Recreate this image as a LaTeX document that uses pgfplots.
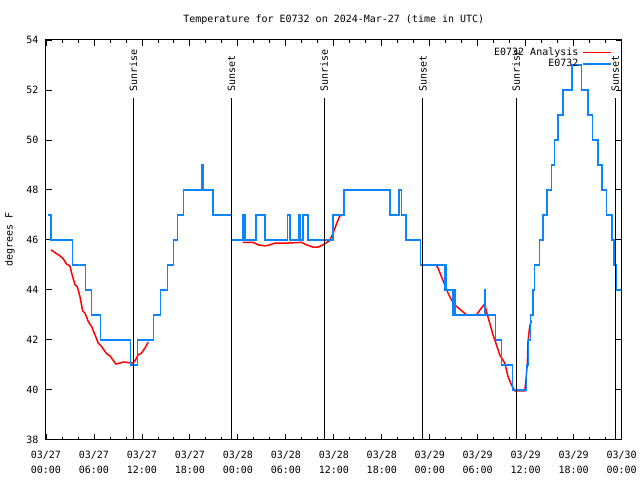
\documentclass[border=0pt]{standalone}
\usepackage{fontspec}
\setmainfont{DejaVu Sans Mono}
\usepackage{pgfplots}
\pgfplotsset{compat=1.18}
\definecolor{obsblue}{RGB}{10,132,255}
\newcommand{\gfont}{\fontsize{10bp}{12bp}\selectfont}
\begin{document}
\begin{tikzpicture}
\begin{axis}[
  scale only axis, width=576bp, height=400bp,
  xmin=0, xmax=72, ymin=38, ymax=54,
  xtick={0,6,...,72},
  xticklabels={{03/27\\00:00},{03/27\\06:00},{03/27\\12:00},{03/27\\18:00},{03/28\\00:00},{03/28\\06:00},{03/28\\12:00},{03/28\\18:00},{03/29\\00:00},{03/29\\06:00},{03/29\\12:00},{03/29\\18:00},{03/30\\00:00}},
  minor x tick num=2,
  ytick={38,40,...,54},
  tick align=inside,
  major tick length=6bp, minor tick length=3bp,
  tick style={black, line width=0.8bp},
  axis line style={line width=1bp},
  font=\gfont,
  xticklabel style={font=\fontsize{10bp}{15bp}\selectfont, align=center, yshift=-8bp},
  yticklabel style={xshift=-4bp},
  /pgf/number format/assume math mode=true,
  title={Temperature for E0732 on 2024-Mar-27 (time in UTC)},
  title style={at={(axis description cs:0.5,1.035)}, anchor=center, font=\gfont},
  ylabel={degrees F},
  ylabel style={at={(axis description cs:-0.0625,0.5)}, anchor=center, font=\gfont},
  legend style={draw=none, fill=none, at={(axis description cs:0.983,0.982)}, anchor=north east,
    font=\gfont, inner sep=0pt, outer sep=0pt, row sep=0pt, column sep=3bp,
    nodes={inner sep=1bp}},
  legend cell align=right,
  legend plot pos=right,
  legend image code/.code={\draw[#1, line width=1.5bp] (0bp,0bp) -- (28bp,0bp);},
]
% Analysis (red)
\addplot[red, line width=1.5bp] coordinates {
(0.63,45.6)(1.13,45.49)(1.75,45.36)(2.09,45.27)(2.59,45.03)(3.0,44.95)(3.21,44.67)(3.63,44.2)(3.91,44.13)(4.25,43.73)(4.59,43.16)(4.88,43.07)(5.29,42.73)(5.71,42.53)(6.13,42.2)(6.54,41.87)(6.96,41.73)(7.59,41.44)(8.0,41.36)(8.34,41.2)(8.75,41.03)(9.25,41.07)(9.66,41.11)(10.29,41.09)(10.84,41.07)(11.13,41.16)(11.54,41.4)(11.96,41.47)(12.38,41.67)(12.79,41.91)
};
\addlegendentry{E0732 Analysis}
\addplot[red, line width=1.5bp, forget plot] coordinates {
(24.59,45.9)(25.91,45.9)(26.54,45.8)(27.38,45.76)(28.0,45.8)(28.63,45.87)(30.09,45.87)(31.96,45.9)(32.59,45.8)(33.41,45.71)(34.04,45.71)(34.66,45.8)(35.5,45.97)(35.91,46.27)(36.34,46.64)(36.75,46.96)(36.85,46.97)
};
\addplot[red, line width=1.5bp, forget plot] coordinates {
(48.75,45.0)(49.04,44.87)(49.46,44.53)(49.88,44.2)(50.29,43.87)(50.71,43.6)(51.13,43.4)(51.75,43.23)(52.59,43.0)(53.84,43.0)(54.46,43.27)(54.88,43.44)(55.09,43.13)(55.5,42.67)(55.91,42.2)(56.34,41.8)(56.75,41.4)(57.38,41.07)(57.79,40.53)(58.21,40.2)(58.63,39.96)(59.88,39.96)(60.0,40.27)(60.21,41.07)(60.29,41.93)(60.5,42.53)(60.71,42.77)
};
% Observations (blue)
\addplot[obsblue, line width=1.5bp, const plot] coordinates {
(0.25,47)(0.63,46)(3.29,45)(4.96,44)(5.71,43)(6.83,42)(10.58,41)(11.42,42)(13.42,43)(14.33,44)(15.17,45)(15.92,46)(16.42,47)(17.17,48)(19.46,49)(19.67,48)(20.92,47)(23.21,46)(24.67,47)(24.92,46)(26.25,47)(27.38,46)(30.2,47)(30.5,46)(31.67,47)(31.83,46)(32.17,47)(32.75,46)(35.92,47)(37.25,48)(43.0,47)(44.17,48)(44.46,47)(45.0,46)(46.83,45)(49.85,44)(49.95,45)(50.05,44)(50.83,43)(51.0,44)(51.15,43)(54.85,44)(54.95,43)(56.2,42)(56.96,41)(58.33,40)(60.08,41)(60.38,42)(60.58,43)(60.92,44)(61.13,45)(61.75,46)(62.17,47)(62.67,48)(63.21,49)(63.63,50)(64.04,51)(64.67,52)(65.8,53)(66.96,52)(67.8,51)(68.33,50)(69.04,49)(69.54,48)(70.08,47)(70.79,46)(71.05,45)(71.3,44)(71.9,44)
};
\addlegendentry{E0732}
% Sunrise / sunset lines
\addplot[black, line width=1bp, forget plot] coordinates {(10.95,38) (10.95,51.68)};
\addplot[black, line width=1bp, forget plot] coordinates {(23.2,38) (23.2,51.68)};
\addplot[black, line width=1bp, forget plot] coordinates {(34.8,38) (34.8,51.68)};
\addplot[black, line width=1bp, forget plot] coordinates {(47.15,38) (47.15,51.68)};
\addplot[black, line width=1bp, forget plot] coordinates {(58.8,38) (58.8,51.68)};
\addplot[black, line width=1bp, forget plot] coordinates {(71.2,38) (71.2,51.68)};
\node[rotate=90, anchor=west, inner sep=0pt, font=\gfont] at (axis cs:10.95,51.92) {Sunrise};
\node[rotate=90, anchor=west, inner sep=0pt, font=\gfont] at (axis cs:23.2,51.92) {Sunset};
\node[rotate=90, anchor=west, inner sep=0pt, font=\gfont] at (axis cs:34.8,51.92) {Sunrise};
\node[rotate=90, anchor=west, inner sep=0pt, font=\gfont] at (axis cs:47.15,51.92) {Sunset};
\node[rotate=90, anchor=west, inner sep=0pt, font=\gfont] at (axis cs:58.8,51.92) {Sunrise};
\node[rotate=90, anchor=west, inner sep=0pt, font=\gfont] at (axis cs:71.2,51.92) {Sunset};
\end{axis}
\path[use as bounding box] (-46bp,-40bp) rectangle (594bp,440bp);
\end{tikzpicture}
\end{document}
